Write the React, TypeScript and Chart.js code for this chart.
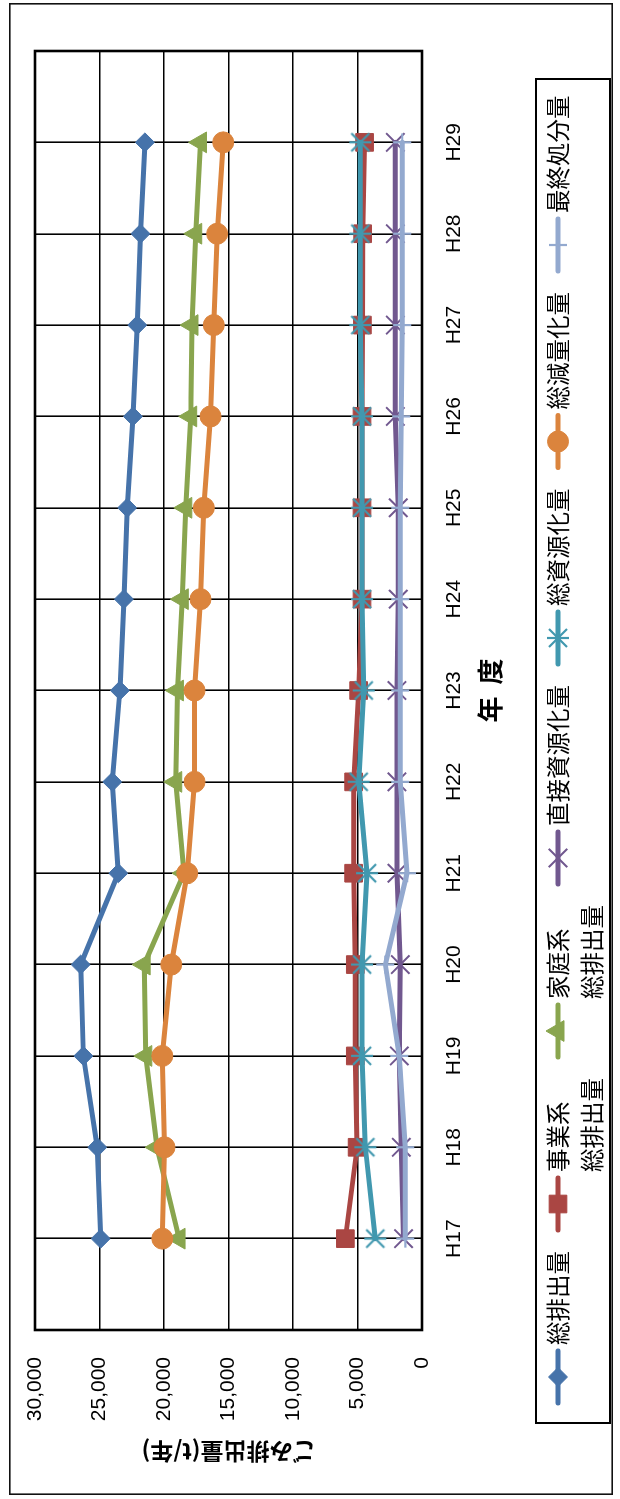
import React, { useEffect, useRef } from 'react';
import { Chart, registerables } from 'chart.js';
import { drawPoint } from 'chart.js/helpers';

Chart.register(...registerables);

// 年度 (fiscal years)
const years = ['H17', 'H18', 'H19', 'H20', 'H21', 'H22', 'H23', 'H24', 'H25', 'H26', 'H27', 'H28', 'H29'];

// t/年
const totalDischarge = [24910, 25170, 26250, 26460, 23540, 24010, 23420, 23110, 22850, 22410, 22070, 21820, 21480];
const businessDischarge = [5940, 5030, 5170, 5170, 5300, 5300, 4910, 4650, 4650, 4650, 4620, 4600, 4450];
const householdDischarge = [18830, 20540, 21410, 21540, 18450, 19090, 18960, 18580, 18310, 17930, 17830, 17540, 17170];
const directRecycling = [1430, 1600, 1760, 1680, 1940, 1940, 1940, 1840, 1840, 2070, 2070, 2070, 2070];
const totalRecycling = [3620, 4390, 4650, 4650, 4260, 4910, 4520, 4650, 4650, 4650, 4780, 4780, 4780];
const totalReduction = [20130, 19960, 20130, 19440, 18200, 17630, 17630, 17170, 16910, 16390, 16140, 15880, 15410];
const finalDisposal = [1290, 1290, 1760, 2840, 1160, 1680, 1680, 1680, 1680, 1600, 1530, 1530, 1530];

const seriesLines: string[][] = [
  ['総排出量'],
  ['事業系', '総排出量'],
  ['家庭系', '総排出量'],
  ['直接資源化量'],
  ['総資源化量'],
  ['総減量化量'],
  ['最終処分量'],
];

const yTicksMax = 30000;
const yTicksStep = 5000;

const yTitle = 'ごみ排出量(t/年)';
const xTitle = '年  度';

const colors = ['#4673AA', '#AA4643', '#89A54E', '#71588F', '#4198AF', '#DB843D', '#93A9CF'];

const LATIN = "'Liberation Sans', Arial, sans-serif";
const CJK = "'Noto Sans CJK JP', sans-serif";

// the chart is laid out landscape, then turned a quarter turn on the page
const CW = 1492;
const CH = 604;

function makeStar(color: string): HTMLCanvasElement {
  const c = document.createElement('canvas');
  c.width = 24;
  c.height = 24;
  const g = c.getContext('2d')!;
  g.strokeStyle = color;
  g.lineWidth = 2.2;
  g.beginPath();
  g.moveTo(3, 3); g.lineTo(21, 21);
  g.moveTo(21, 3); g.lineTo(3, 21);
  g.moveTo(12, 1); g.lineTo(12, 23);
  g.stroke();
  return c;
}

export default function App() {
  const ref = useRef<HTMLCanvasElement>(null);

  useEffect(() => {
    if (!ref.current) return;
    const pad = (a: number[]) => [null, ...a, null];
    const series = [totalDischarge, businessDischarge, householdDischarge, directRecycling, totalRecycling, totalReduction, finalDisposal];
    const styles: any[] = ['rectRot', 'rect', 'triangle', 'crossRot', makeStar(colors[4]), 'circle', 'cross'];
    const radii = [9.5, 12.5, 12, 13, 12, 10.5, 9];
    const pbw = [1, 1, 1, 2, 2, 1, 2.2];

    const datasets = series.map((d, i) => ({
      label: seriesLines[i].join(''),
      data: pad(d),
      borderColor: colors[i],
      backgroundColor: colors[i],
      borderWidth: 5,
      borderCapStyle: 'round' as const,
      borderJoinStyle: 'round' as const,
      tension: 0,
      pointStyle: styles[i],
      pointRadius: radii[i],
      pointBorderWidth: pbw[i],
      pointBackgroundColor: colors[i],
      pointBorderColor: colors[i],
      order: series.length - i,
    }));

    const framePlugin = {
      id: 'frame',
      beforeDraw(chart: any) {
        const ctx = chart.ctx;
        ctx.save();
        ctx.fillStyle = '#fff';
        ctx.fillRect(0, 0, CW, CH);
        ctx.strokeStyle = '#111';
        ctx.lineWidth = 1.6;
        ctx.strokeRect(0.8, 0.8, CW - 1.6, CH - 1.6);
        ctx.restore();
      },
      beforeDatasetsDraw(chart: any) {
        const { ctx, chartArea: a } = chart;
        ctx.save();
        ctx.strokeStyle = '#000';
        ctx.lineWidth = 2.6;
        ctx.strokeRect(a.left, a.top, a.right - a.left, a.bottom - a.top);
        ctx.restore();
      },
      afterDraw(chart: any) {
        const ctx = chart.ctx;
        ctx.save();
        ctx.strokeStyle = '#000';
        ctx.lineWidth = 2;
        ctx.strokeRect(72, 527, 1416 - 72, 601 - 527);
        const rowY = 549;
        const lineGap = 34;
        ctx.font = `23.5px ${CJK}`;
        ctx.textBaseline = 'middle';
        ctx.textAlign = 'left';
        let x = 92;
        chart.data.datasets.forEach((ds: any, i: number) => {
          const col = ds.borderColor;
          ctx.strokeStyle = col;
          ctx.lineWidth = 5;
          ctx.lineCap = 'round';
          ctx.beginPath();
          ctx.moveTo(x, rowY);
          ctx.lineTo(x + 52, rowY);
          ctx.stroke();
          ctx.fillStyle = col;
          ctx.lineWidth = ds.pointBorderWidth;
          ctx.lineCap = 'butt';
          drawPoint(ctx, { pointStyle: ds.pointStyle, rotation: 0, radius: ds.pointRadius, borderWidth: ds.pointBorderWidth } as any, x + 26, rowY);
          ctx.fillStyle = '#000';
          let w = 0;
          seriesLines[i].forEach((t, k) => {
            ctx.fillText(t, x + 58, rowY + k * lineGap);
            w = Math.max(w, ctx.measureText(t).width);
          });
          x += 58 + w + 21;
        });
        ctx.restore();
      },
    };

    const chart = new Chart(ref.current, {
      type: 'line',
      data: { labels: ['', ...years, ''], datasets },
      options: {
        responsive: false,
        animation: false,
        devicePixelRatio: 1,
        layout: { padding: { top: 26, right: CW - 1444, left: 0, bottom: 0 } },
        plugins: { legend: { display: false }, tooltip: { enabled: false } },
        scales: {
          x: {
            type: 'category',
            offset: false,
            grid: { color: '#000', lineWidth: 1.6, drawTicks: false, offset: false },
            border: { display: false },
            ticks: { autoSkip: false, maxRotation: 0, padding: 20, color: '#000', font: { family: LATIN, size: 21 } },
            title: { display: true, text: xTitle, color: '#000', font: { family: CJK, size: 26, weight: 'bold' }, padding: { top: 0, bottom: 107 } },
            afterFit(s: any) {
              s.height = CH - 413;
              s.paddingLeft = 0;
              s.paddingRight = 0;
            },
          },
          y: {
            min: 0,
            max: yTicksMax,
            grid: { color: '#000', lineWidth: 1.6, drawTicks: false },
            border: { display: false },
            ticks: {
              stepSize: yTicksStep,
              padding: 27,
              color: '#000',
              font: { family: LATIN, size: 21 },
              callback: (v: any) => Number(v).toLocaleString('en-US'),
            },
            title: { display: true, text: yTitle, color: '#000', font: { family: CJK, size: 23, weight: 'bold' }, padding: { top: 29, bottom: 0 } },
            afterFit(s: any) {
              s.width = 165;
              s.paddingTop = 0;
              s.paddingBottom = 0;
            },
          },
        },
      },
      plugins: [framePlugin],
    } as any);
    return () => chart.destroy();
  }, []);

  return (
    <div style={{ position: 'absolute', left: 0, top: 0, width: 620, height: 1499, overflow: 'hidden', background: '#fff' }}>
      <div
        style={{
          position: 'absolute',
          left: 9,
          top: 3 + CW,
          width: CW,
          height: CH,
          transformOrigin: '0 0',
          transform: 'rotate(-90deg)',
        }}
      >
        <canvas ref={ref} width={CW} height={CH} style={{ display: 'block', width: CW, height: CH }} />
      </div>
    </div>
  );
}
